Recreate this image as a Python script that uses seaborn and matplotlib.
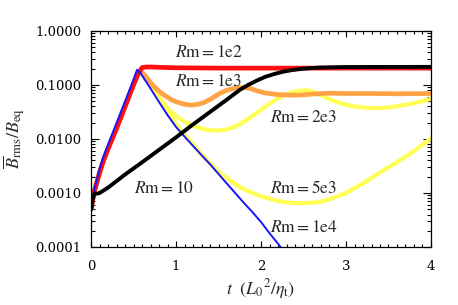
import numpy as np
import pandas as pd
import matplotlib
matplotlib.use("Agg")
import matplotlib.pyplot as plt
import matplotlib.ticker as mticker
import seaborn as sns

# ---------------- data ----------------
t_rm10 = [0.0, 0.02, 0.04, 0.07, 0.1, 0.2, 0.4, 0.6, 0.8, 1.0, 1.2, 1.4, 1.6, 1.75, 1.85, 1.95, 2.05, 2.15, 2.25, 2.35, 2.5, 2.7, 3.0, 4.0]
b_rm10 = [0.0005, 0.00079, 0.00098, 0.00097, 0.001, 0.00126, 0.0022, 0.0037, 0.0063, 0.0107, 0.0186, 0.0316, 0.0537, 0.081, 0.1, 0.12, 0.141, 0.158, 0.174, 0.186, 0.2, 0.209, 0.214, 0.215]

t_growth = [0.0, 0.03, 0.05, 0.1, 0.15, 0.22, 0.3, 0.4, 0.48, 0.55]
b_growth = [0.0005, 0.001, 0.00126, 0.0024, 0.0042, 0.0079, 0.0158, 0.04, 0.085, 0.158]

t_rm1e2 = t_growth + [0.6, 0.65, 0.7, 0.8, 1.0, 1.5, 2.0, 3.0, 4.0]
b_rm1e2 = b_growth + [0.209, 0.214, 0.214, 0.211, 0.207, 0.204, 0.204, 0.204, 0.204]

t_rm1e3 = t_growth + [0.58, 0.62, 0.67, 0.72, 0.8, 0.87, 0.95, 1.03, 1.1, 1.18, 1.26, 1.34, 1.42, 1.5, 1.58, 1.66, 1.74, 1.81, 1.88, 1.95, 2.05, 2.2, 2.34, 2.46, 2.6, 2.8, 3.0, 3.3, 3.6, 4.0]
b_rm1e3 = b_growth + [0.18, 0.158, 0.126, 0.1, 0.076, 0.063, 0.0525, 0.047, 0.0437, 0.0422, 0.0437, 0.048, 0.056, 0.0676, 0.0776, 0.0851, 0.0891, 0.0891, 0.0851, 0.0776, 0.0708, 0.066, 0.0646, 0.0646, 0.0676, 0.07, 0.0692, 0.0692, 0.0684, 0.0692]

t_rm2e3 = t_growth + [0.58, 0.65, 0.72, 0.8, 0.91, 1.0, 1.11, 1.2, 1.3, 1.4, 1.5, 1.6, 1.7, 1.8, 1.9, 2.0, 2.1, 2.22, 2.35, 2.45, 2.52, 2.6, 2.7, 2.81, 2.95, 3.1, 3.25, 3.4, 3.55, 3.7, 3.85, 4.0]
b_rm2e3 = b_growth + [0.174, 0.126, 0.089, 0.06, 0.0355, 0.0263, 0.0204, 0.0174, 0.0155, 0.0145, 0.0143, 0.0151, 0.017, 0.0209, 0.0269, 0.0347, 0.0447, 0.0589, 0.0724, 0.0776, 0.0794, 0.0759, 0.0646, 0.0537, 0.0447, 0.0398, 0.0376, 0.0372, 0.0389, 0.0427, 0.0479, 0.055]

t_rm5e3 = t_growth + [0.58, 0.65, 0.75, 0.87, 1.0, 1.1, 1.2, 1.3, 1.4, 1.5, 1.6, 1.7, 1.8, 1.9, 2.0, 2.1, 2.2, 2.3, 2.4, 2.5, 2.6, 2.7, 2.8, 2.9, 3.0, 3.1, 3.2, 3.3, 3.4, 3.5, 3.6, 3.7, 3.8, 3.9, 4.0]
b_rm5e3 = b_growth + [0.174, 0.126, 0.076, 0.038, 0.019, 0.012, 0.0079, 0.0052, 0.0035, 0.0025, 0.00186, 0.00145, 0.00117, 0.001, 0.00087, 0.00078, 0.00071, 0.00067, 0.00065, 0.00065, 0.00066, 0.00069, 0.00076, 0.00087, 0.001, 0.00123, 0.00151, 0.0019, 0.0024, 0.003, 0.0037, 0.0047, 0.006, 0.0078, 0.0102]

t_rm1e4 = [0.0, 0.03, 0.05, 0.1, 0.15, 0.22, 0.3, 0.4, 0.48, 0.54, 0.58, 0.63, 0.7, 0.8, 0.9, 1.0, 1.1, 1.2, 1.3, 1.4, 1.5, 1.6, 1.7, 1.8, 1.9, 2.0, 2.1, 2.2, 2.3]
b_rm1e4 = [0.0005, 0.001, 0.00138, 0.00282, 0.005, 0.00955, 0.02, 0.05, 0.105, 0.19, 0.166, 0.126, 0.085, 0.048, 0.0275, 0.0166, 0.011, 0.0074, 0.005, 0.0034, 0.00224, 0.00148, 0.00098, 0.00065, 0.00044, 0.00029, 0.00018, 0.000115, 0.000072]

labels = ["$R\\mathrm{m}=1\\mathrm{e}2$", "$R\\mathrm{m}=1\\mathrm{e}3$", "$R\\mathrm{m}=2\\mathrm{e}3$",
          "$R\\mathrm{m}=5\\mathrm{e}3$", "$R\\mathrm{m}=1\\mathrm{e}4$", "$R\\mathrm{m}=10$"]
label_t = [0.99, 0.99, 2.1, 2.1, 2.1, 0.5]
label_b = [0.40, 0.114, 0.0249, 0.0012, 0.000234, 0.0012]

yticks = [0.0001, 0.001, 0.01, 0.1, 1.0]
xticks = [0, 1, 2, 3, 4]

# ---------------- plotting ----------------
sns.set_style("ticks")
plt.rcParams["mathtext.fontset"] = "stix"
plt.rcParams["font.family"] = ["DejaVu Serif"]

fig = plt.figure(figsize=(4.58, 3.05), dpi=100)
ax = fig.add_axes([0.199, 0.190, 0.742, 0.709])

series = [
    (t_rm5e3, b_rm5e3, "#FFFF55", 3.0),
    (t_rm2e3, b_rm2e3, "#FFFF55", 3.0),
    (t_rm1e3, b_rm1e3, "#FFA347", 3.4),
    (t_rm1e2, b_rm1e2, "#FF1010", 3.4),
    (t_rm1e4, b_rm1e4, "#1515FF", 1.4),
    (t_rm10, b_rm10, "#000000", 2.8),
]
for tt, bb, col, lw in series:
    df = pd.DataFrame({"t": tt, "B": bb})
    sns.lineplot(data=df, x="t", y="B", ax=ax, color=col, linewidth=lw,
                 estimator=None, sort=False, legend=False)
for ln in ax.get_lines():
    ln.set_solid_joinstyle("round")

ax.set_yscale("log")
ax.set_xlim(0, 4)
ax.set_ylim(1e-4, 1.0)
ax.set_xticks(xticks)
ax.set_xticklabels([str(v) for v in xticks])
ax.set_yticks(yticks)
ax.yaxis.set_major_formatter(mticker.FuncFormatter(lambda v, p: "%.4f" % v))
ax.yaxis.set_minor_locator(mticker.LogLocator(base=10, subs=np.arange(2, 10)))
ax.yaxis.set_minor_formatter(mticker.NullFormatter())
ax.xaxis.set_minor_locator(mticker.MultipleLocator(0.1))

ax.tick_params(which="both", direction="in", top=True, right=True, width=0.8, colors="black")
ax.tick_params(axis="y", which="major", length=6, labelsize=9.5, pad=7)
ax.tick_params(axis="y", which="minor", length=3)
ax.tick_params(axis="x", which="major", length=4, labelsize=9.5, pad=9)
ax.tick_params(axis="x", which="minor", length=2)
for s in ax.spines.values():
    s.set_linewidth(0.9)
    s.set_color("black")

ax.set_xlabel(r"$t\ \ (L_0{}^{2}/\eta_{\rm t})$", fontsize=13, labelpad=3)
ax.set_ylabel(r"$\overline{B}_{\rm rms}/B_{\rm eq}$", fontsize=13, labelpad=5)

for lab, lt, lb in zip(labels, label_t, label_b):
    ax.text(lt, lb, lab, fontsize=12.5, ha="left", va="center")

fig.savefig("out.png", dpi=100)
